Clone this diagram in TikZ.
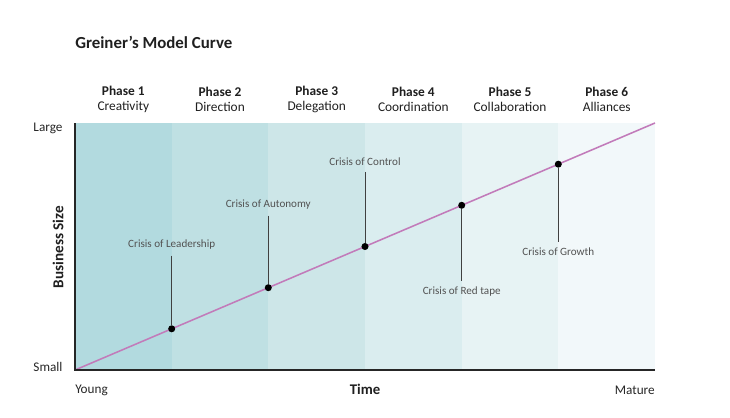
\documentclass[tikz,border=0pt]{standalone}
\usepackage{fontspec}
\setmainfont{Carlito}
\usetikzlibrary{positioning}
\definecolor{bandA}{HTML}{B2DADF}\definecolor{bandB}{HTML}{BFE0E3}
\definecolor{bandC}{HTML}{CDE6E8}\definecolor{bandD}{HTML}{DAEDEF}
\definecolor{bandE}{HTML}{E7F3F4}\definecolor{bandF}{HTML}{F2F8FA}
\definecolor{curvecol}{HTML}{C27BBA}
\tikzset{ph/.style={align=center,font=\fontsize{9.5}{10.7}\selectfont,text=black!88},
 cr/.style={font=\fontsize{7.9}{9}\selectfont,text=black!68,inner sep=4pt},
 dot/.style={circle,fill=black,inner sep=0pt,minimum size=5pt},
 stem/.style={draw=black!75,line width=0.7pt},
 axis/.style={draw=black!85,line width=1.1pt},
 lbl/.style={font=\fontsize{9.4}{11}\selectfont,text=black!85},
 hd/.style={font=\bfseries\fontsize{10.8}{12}\selectfont,text=black!88}}
\begin{document}
\begin{tikzpicture}[x=0.025cm,y=-0.025cm]
\useasboundingbox (0,0) rectangle (730,417);
\fill[bandA](75,123) rectangle (171.7,370);\fill[bandB](171.7,123) rectangle (268.3,370);
\fill[bandC](268.3,123) rectangle (365,370);\fill[bandD](365,123) rectangle (461.7,370);
\fill[bandE](461.7,123) rectangle (558.3,370);\fill[bandF](558.3,123) rectangle (655,370);
\coordinate (o) at (75,370);\coordinate (top) at (75,123);
\coordinate (end) at (655,123);\coordinate (br) at (655,370);
\draw[curvecol,line width=1.1pt](o)--(end);
\draw[axis](top)--(o)--(br);
% phases
\node[ph](p1) at (123.3,99.5){\textbf{Phase 1}\\Creativity};
\node[ph](p2) at (220,99.5){\textbf{Phase 2}\\Direction};
\node[ph](p3) at (316.7,99.5){\textbf{Phase 3}\\Delegation};
\node[ph](p4) at (413.3,99.5){\textbf{Phase 4}\\Coordination};
\node[ph](p5) at (510,99.5){\textbf{Phase 5}\\Collaboration};
\node[ph](p6) at (606.7,99.5){\textbf{Phase 6}\\Alliances};
% crises
\node[dot](d1) at (171.7,328.8){};\node[dot](d2) at (268.3,287.7){};
\node[dot](d3) at (365,246.5){};\node[dot](d4) at (461.7,205.3){};
\node[dot](d5) at (558.3,164.2){};
\node[cr](c1) at (171.7,245){Crisis of Leadership};
\node[cr](c2) at (268.3,205){Crisis of Autonomy};
\node[cr](c3) at (365,162){Crisis of Control};
\node[cr](c4) at (461.7,291.5){Crisis of Red tape};
\node[cr](c5) at (558.3,251.5){Crisis of Growth};
\draw[stem](c1.south)--(d1);\draw[stem](c2.south)--(d2);\draw[stem](c3.south)--(d3);
\draw[stem](d4)--(c4.north);\draw[stem](d5)--(c5.north);
% axes labels
\node[hd,anchor=west,inner sep=0pt](title) at (75,42){\fontsize{12}{14}\selectfont Greiner’s Model Curve};
\node[lbl](large) at (48,128){Large};\node[lbl](small) at (48,367){Small};
\node[hd,rotate=90](bs) at (58,247){Business Size};
\node[lbl,anchor=west,inner sep=0pt](young) at (75,390){Young};
\node[hd](time) at (365,389){\fontsize{10.5}{12}\selectfont Time};
\node[lbl,anchor=east,inner sep=0pt](mature) at (655,390){Mature};
\end{tikzpicture}
\end{document}
